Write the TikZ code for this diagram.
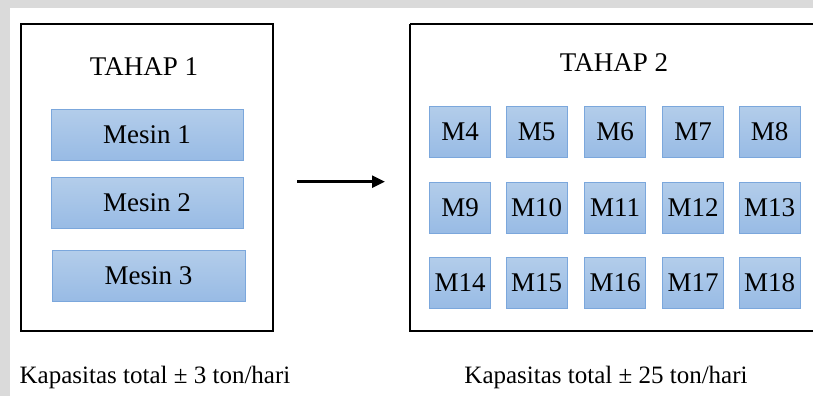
\documentclass[tikz,border=0pt]{standalone}
\usepackage{fontspec}
\setmainfont{Liberation Serif}
\newfontfamily\tnr{Liberation Serif}
\usetikzlibrary{arrows.meta}
\definecolor{bgray}{HTML}{DADADA}
\definecolor{boxtop}{HTML}{B3CDEA}
\definecolor{boxbot}{HTML}{98BBE5}
\definecolor{boxline}{HTML}{7BA7DC}
\tikzset{
  mbox/.style={draw=boxline, line width=0.9pt, top color=boxtop, bottom color=boxbot,
    minimum height=51pt, inner sep=0pt, font=\tnr\fontsize{27}{32}\selectfont},
  wide/.style={mbox, minimum width=192pt},
  small/.style={mbox, minimum width=61pt},
  frame/.style={draw=black, line width=2pt},
  title/.style={anchor=base, inner sep=0pt, font=\tnr\fontsize{27}{32}\selectfont},
  caption/.style={anchor=base, inner sep=0pt, font=\tnr\fontsize{25}{30}\selectfont},
  flow/.style={line width=2.6pt, -{Triangle[length=13pt,width=12pt]}}
}
\begin{document}
\begin{tikzpicture}[x=1pt,y=-1pt]
\clip (0,0) rectangle (813,396);
\fill[white] (0,0) rectangle (813,396);
\fill[bgray] (0,0) rectangle (813,8.5);
\fill[bgray] (0,0) rectangle (10,396);
% frames
\node[frame, minimum width=252pt, minimum height=307pt, inner sep=0pt] (f1) at (147,177.5) {};
\draw[frame] (410,24) -- (830,24) (410,24) -- (410,331) -- (830,331);
\coordinate (f2) at (620,177.5);
% titles
\node[title] (t1) at (144,75) {TAHAP 1};
\node[title] (t2) at (614,71) {TAHAP 2};
% stage 1 machines
\node[wide] (m1) at (147,134.5) {Mesin 1};
\node[wide] (m2) at (147,203) {Mesin 2};
\node[wide, minimum width=193pt] (m3) at (148.5,275.5) {Mesin 3};
% stage 2 machines
\node[small] (M4) at (460,131.5) {M4};
\node[small] (M5) at (536.7,131.5) {M5};
\node[small] (M6) at (615,131.5) {M6};
\node[small] (M7) at (693.2,131.5) {M7};
\node[small] (M8) at (769.7,131.5) {M8};
\node[small] (M9) at (460,207.5) {M9};
\node[small] (M10) at (536.7,207.5) {M10};
\node[small] (M11) at (615,207.5) {M11};
\node[small] (M12) at (693.2,207.5) {M12};
\node[small] (M13) at (769.7,207.5) {M13};
\node[small] (M14) at (460,282.5) {M14};
\node[small] (M15) at (536.7,282.5) {M15};
\node[small] (M16) at (615,282.5) {M16};
\node[small] (M17) at (693.2,282.5) {M17};
\node[small] (M18) at (769.7,282.5) {M18};
% arrow
\coordinate (a1) at (297,181.7);
\coordinate (a2) at (385,181.7);
\draw[flow] (a1) -- (a2);
% captions
\node[caption] (c1) at (155,383) {Kapasitas total ± 3 ton/hari};
\node[caption] (c2) at (606,383) {Kapasitas total ± 25 ton/hari};
\end{tikzpicture}
\end{document}
